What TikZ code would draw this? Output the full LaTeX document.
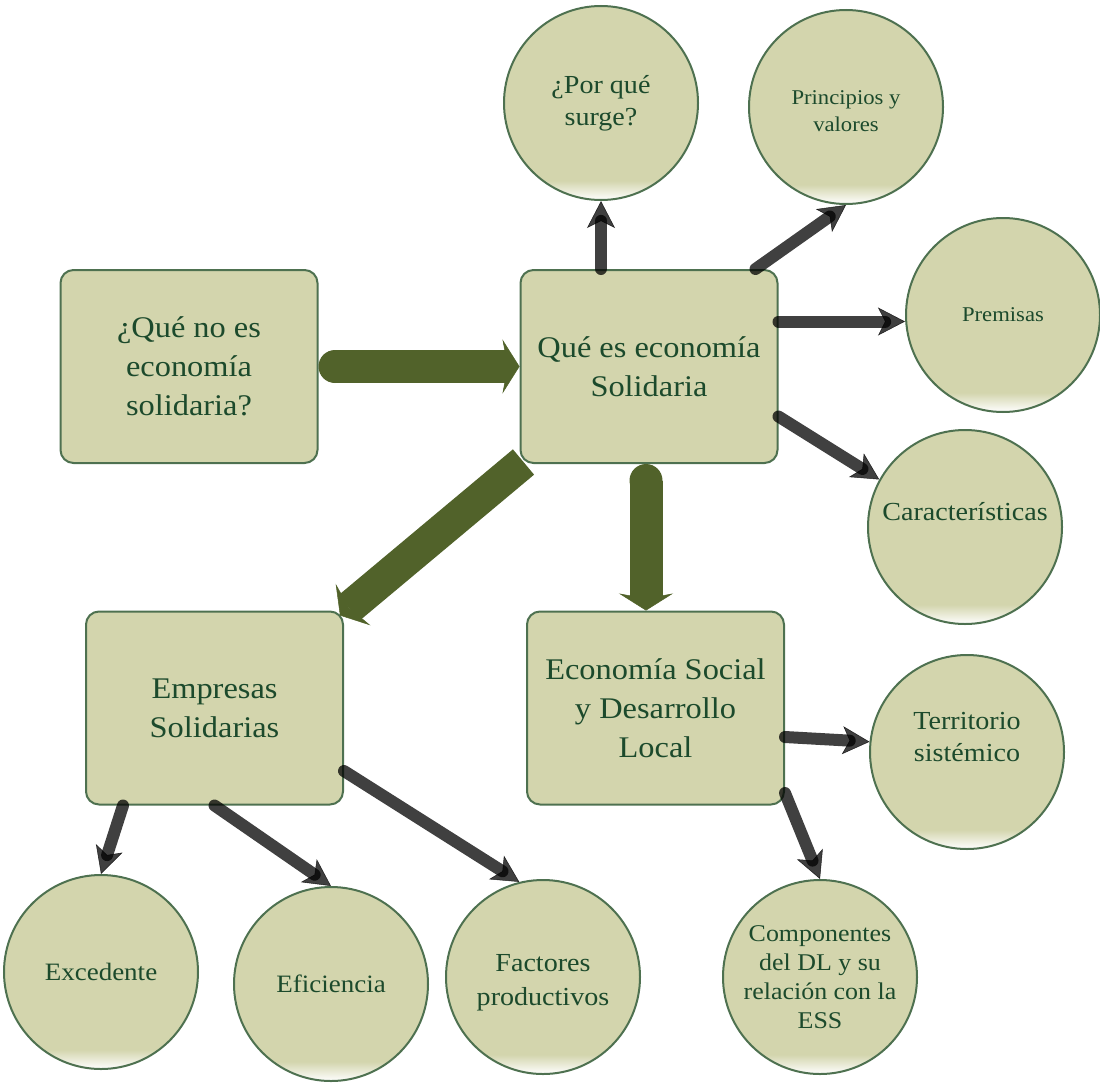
\documentclass[tikz,border=0pt]{standalone}
\usepackage{fontspec}
\setmainfont{Liberation Serif}[FakeStretch=1.08]
\usetikzlibrary{arrows.meta,calc}
\definecolor{cfill}{HTML}{D3D5AD}
\definecolor{cborder}{HTML}{4E7150}
\definecolor{ctext}{HTML}{1C4A2C}
\definecolor{bigg}{HTML}{51622A}
\pgfdeclareverticalshading{circfade}{100bp}{color(0bp)=(white); color(25bp)=(white); color(30bp)=(cfill); color(100bp)=(cfill)}
\newcommand{\fs}[2]{\fontsize{#1}{#2}\selectfont}
\begin{document}
\begin{tikzpicture}[x=1pt,y=-1pt,
 box/.style={draw=cborder, line width=2pt, fill=cfill, rounded corners=13pt, minimum width=257pt, minimum height=193pt, text=ctext, align=center, inner sep=0pt, font=\fs{30}{39}},
 circ/.style={circle, draw=cborder, line width=2pt, shading=circfade, minimum size=194pt, inner sep=0pt, text=ctext, align=center},
 darr/.style={draw=black, opacity=0.75, line width=12pt, line cap=round, -{Stealth[length=27pt,width=28pt,inset=7pt,line width=0.5pt]}},
 bigarr/.style={draw=bigg, line width=33pt, line cap=butt, -{Stealth[length=17pt,width=54pt,inset=5pt,line width=0.5pt]}},
 tail/.style={fill=bigg}
]
\useasboundingbox (0,0) rectangle (1100,1084);

\node[box] (b1) at (189,366.5) {¿Qué no es\\economía\\solidaria?};
\node[box] (b2) at (649,366.5) {Qué es economía\\Solidaria};
\node[box] (b3) at (214.5,708) {Empresas\\Solidarias};
\node[box] (b4) at (655.5,708) {Economía Social\\y Desarrollo\\Local};

\node[circ, font=\fs{26}{32}] (c1) at (601,103) {¿Por qué\\surge?};
\node[circ, font=\fs{21}{27}] (c2) at (846,107) {\raisebox{-6pt}[\height][\depth]{\begin{tabular}{@{}c@{}}Principios y\\valores\end{tabular}}};
\node[circ, font=\fs{21}{27}] (c3) at (1003,315) {Premisas};
\node[circ, font=\fs{26}{32}] (c4) at (965,527) {\raisebox{32pt}{Características}};
\node[circ, font=\fs{26}{32}] (c5) at (967,752) {\raisebox{52pt}{\begin{tabular}{@{}c@{}}Territorio\\sistémico\end{tabular}}};
\node[circ, font=\fs{24}{29}] (c6) at (820,977) {Componentes\\del DL y su\\relación con la\\ESS};
\node[circ, font=\fs{25}{32}] (c7) at (101,972) {Excedente};
\node[circ, font=\fs{25}{32}] (c8) at (331,984) {Eficiencia};
\node[circ, font=\fs{26}{34}] (c9) at (543,977) {\raisebox{-5pt}[\height][\depth]{\begin{tabular}{@{}c@{}}Factores\\productivos\end{tabular}}};

% big green arrows
\coordinate (s1) at ($(b1.east)+(16.5,0)$);
\coordinate (s2) at ($(b2.south)+(-3,16.5)$);
\coordinate (s3) at ($(b2.south west)+(4,-2)$);
\fill[tail] (s1) circle (16.5pt);
\draw[bigarr] (s1) -- (b2.west);
\fill[tail] (s2) circle (16.5pt);
\draw[bigarr] (s2) -- (s2 |- b4.north);
\draw[bigarr] (s3) -- ([xshift=-4pt,yshift=-5pt]b3.north east);

% dark arrows
\coordinate (a3) at ([yshift=45pt]b2.east);
\draw[darr] (b2.north -| c1.south) -- (c1.south);
\draw[darr] ([xshift=-23pt]b2.north east) -- (c2.south);
\draw[darr] (a3) -- (a3 -| c3.west);
\draw[darr] ([yshift=-50pt]b2.east) -- (c4.151);
\draw[darr] ([yshift=-29pt]b4.east) -- (c5.174);
\draw[darr] ([yshift=-85pt]b4.east) -- (c6.north);
\draw[darr] ([xshift=38pt]b3.south west) -- (c7.north);
\draw[darr] (b3.south) -- (c8.north);
\draw[darr] ([yshift=-63pt]b3.east) -- (c9.104);
\end{tikzpicture}
\end{document}
